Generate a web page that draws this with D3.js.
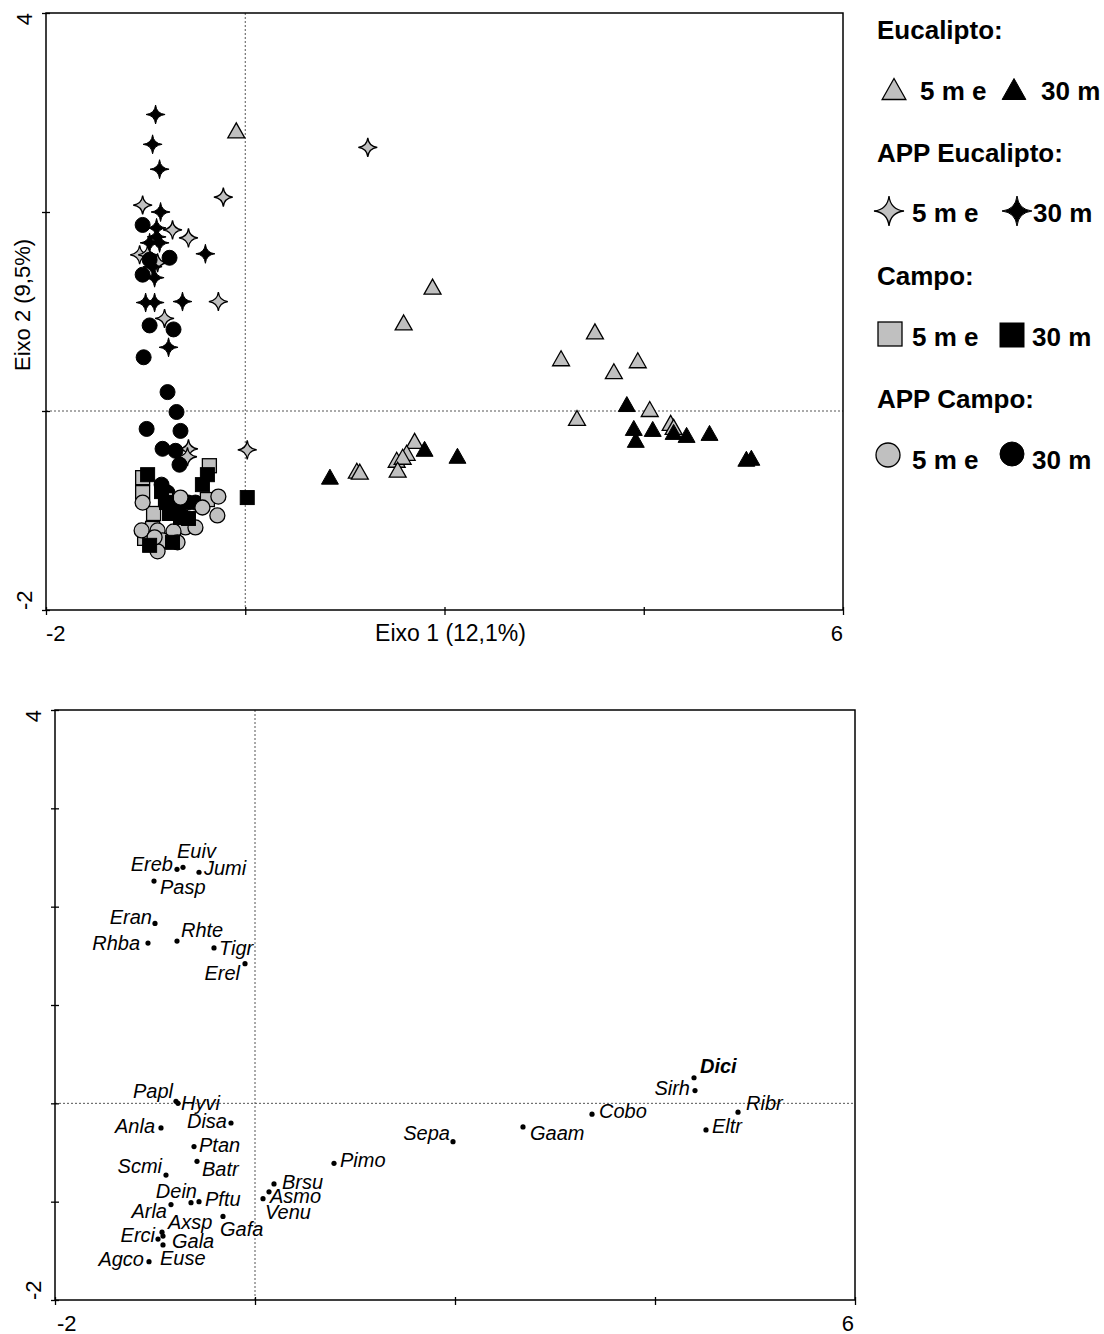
<!DOCTYPE html>
<html><head><meta charset="utf-8">
<script src="https://cdn.jsdelivr.net/npm/d3@7"></script>
<style>body{margin:0;background:#fff}svg{display:block}text{font-family:"Liberation Sans",Arial,sans-serif}</style>
</head><body><div id="chart"></div>
<script>
// ---------- DATA: top plot (sample scores, [x, y]) ----------
const eucalipto5 = [[-0.09,2.82],[1.88,1.25],[1.59,0.89],[3.51,0.80],[3.17,0.53],[3.94,0.51],[3.70,0.40],[4.06,0.02],[3.33,-0.07],[4.27,-0.12],[4.30,-0.16],[1.70,-0.30],[1.62,-0.42],[1.52,-0.49],[1.58,-0.46],[1.53,-0.59],[1.12,-0.60],[1.15,-0.61]];
const eucalipto30 = [[0.85,-0.66],[1.80,-0.38],[2.13,-0.45],[3.83,0.07],[3.90,-0.17],[4.09,-0.18],[4.30,-0.21],[4.43,-0.24],[4.66,-0.22],[3.92,-0.29],[5.03,-0.48],[5.08,-0.47]];
const appEuc5 = [[1.23,2.65],[-0.22,2.15],[-1.03,2.07],[-0.73,1.82],[-0.57,1.74],[-1.06,1.57],[-0.98,1.57],[-0.88,1.49],[-0.27,1.10],[-0.81,0.93],[-0.57,-0.38],[0.02,-0.39],[-0.58,-0.46]];
const appEuc30 = [[-0.90,2.98],[-0.93,2.68],[-0.86,2.43],[-0.85,2.00],[-0.89,1.84],[-0.89,1.75],[-0.86,1.69],[-0.96,1.69],[-0.40,1.58],[-0.93,1.45],[-0.91,1.34],[-1.00,1.09],[-0.91,1.09],[-0.63,1.10],[-0.77,0.64]];
const appCampo30 = [[-1.03,1.87],[-0.76,1.54],[-1.03,1.37],[-0.96,1.52],[-0.96,0.86],[-0.72,0.82],[-1.02,0.54],[-0.78,0.19],[-0.69,-0.01],[-0.99,-0.18],[-0.65,-0.20],[-0.83,-0.38],[-0.70,-0.40],[-0.66,-0.54],[-0.84,-0.74],[-0.78,-0.82],[-0.57,-0.92],[-0.50,-0.92],[-0.67,-0.97]];
const appCampo5 = [[-1.03,-0.92],[-0.27,-0.86],[-0.28,-1.05],[-0.43,-0.97],[-0.65,-0.87],[-0.60,-1.17],[-0.50,-1.17],[-0.72,-1.21],[-1.04,-1.20],[-0.88,-1.20],[-0.83,-1.30],[-0.68,-1.32],[-0.88,-1.41],[-0.91,-1.27]];
const campo5 = [[-0.36,-0.55],[-1.03,-0.67],[-1.03,-0.82],[-0.38,-0.89],[-0.92,-1.03],[-0.93,-1.18],[-1.01,-1.28],[-0.80,-0.89]];
const campo30 = [[-0.98,-0.64],[-0.38,-0.64],[-0.43,-0.74],[0.02,-0.87],[-0.79,-0.92],[-0.76,-1.03],[-0.65,-1.07],[-0.57,-1.08],[-0.96,-1.35],[-0.73,-1.32],[-0.84,-0.81]];

const topXTicks = [-2,0,2,4,6];
const topYTicks = [-2,0,2,4];
const topXLabels = ["-2","6"];
const topYLabels = ["-2","4"];
const axisTitleX = "Eixo 1 (12,1%)";
const axisTitleY = "Eixo 2 (9,5%)";

const legendGroups = ["Eucalipto:","APP Eucalipto:","Campo:","APP Campo:"];
const legendItems = ["5 m e","30 m"];

// ---------- DATA: bottom plot (species scores) ----------
const species = ["Ereb","Euiv","Jumi","Pasp","Eran","Rhba","Rhte","Tigr","Erel","Papl","Hyvi","Anla","Disa","Ptan","Batr","Scmi","Dein","Pftu","Arla","Axsp","Gafa","Erci","Gala","Euse","Agco","Brsu","Asmo","Venu","Pimo","Sepa","Gaam","Cobo","Dici","Sirh","Ribr","Eltr"];
const speciesX = [-0.78,-0.72,-0.56,-1.01,-1.00,-1.07,-0.78,-0.41,-0.10,-0.79,-0.77,-0.94,-0.24,-0.61,-0.58,-0.89,-0.64,-0.56,-0.84,-0.93,-0.32,-0.97,-0.92,-0.92,-1.06,0.19,0.14,0.08,0.79,1.98,2.68,3.37,4.39,4.40,4.83,4.51];
const speciesY = [2.38,2.40,2.35,2.26,1.83,1.63,1.65,1.58,1.42,0.02,0.00,-0.25,-0.20,-0.44,-0.59,-0.73,-1.01,-1.00,-1.03,-1.31,-1.15,-1.38,-1.35,-1.44,-1.61,-0.82,-0.90,-0.97,-0.61,-0.39,-0.24,-0.11,0.26,0.13,-0.09,-0.27];
const boldSpecies = ["Dici"];
const botXTicks = [-2,0,2,4,6];
const botYTicks = [-2,-1,0,1,2,3,4];

// ---------- LAYOUT (label placement relative to point: anchor, dx, dy) ----------
const labelPlace = {
 Ereb:["end",-4,2], Euiv:["start",-6,-9], Jumi:["start",5,3], Pasp:["start",6,13],
 Eran:["end",-3,1], Rhba:["end",-8,7], Rhte:["start",4,-4], Tigr:["start",5,7], Erel:["end",-5,16],
 Papl:["end",-3,-3], Hyvi:["start",3,7], Anla:["end",-6,5], Disa:["end",-4,5], Ptan:["start",5,5],
 Batr:["start",5,15], Scmi:["end",-4,-2], Dein:["end",6,-5], Pftu:["start",6,4], Arla:["end",-4,13],
 Axsp:["start",6,-3], Gafa:["start",-3,20], Erci:["end",-3,3], Gala:["start",9,12], Euse:["start",-3,20],
 Agco:["end",-5,4], Brsu:["start",8,5], Asmo:["start",1,11], Venu:["start",2,20], Pimo:["start",6,4],
 Sepa:["end",-3,-2], Gaam:["start",7,13], Cobo:["start",7,4], Dici:["start",6,-5], Sirh:["end",-5,4],
 Ribr:["start",8,-2], Eltr:["start",6,3]
};

const GRAY = "#c0c0c0";
const svg = d3.select("#chart").append("svg").attr("width",1104).attr("height",1334);

function starPath(r){
  const c = r*0.1;
  return `M0,${-r}Q${c},${-c} ${r},0Q${c},${c} 0,${r}Q${-c},${c} ${-r},0Q${-c},${-c} 0,${-r}Z`;
}
function triPath(w,h){ return `M0,${-h/2}L${w/2},${h/2}L${-w/2},${h/2}Z`; }
function drawShape(g, type, size, fill){
  let el;
  if(type==="tri") el = g.append("path").attr("d", triPath(size*1.13, size));
  else if(type==="star") el = g.append("path").attr("d", starPath(size/2));
  else if(type==="sq") el = g.append("rect").attr("x",-size/2).attr("y",-size/2).attr("width",size).attr("height",size);
  else el = g.append("circle").attr("r", size/2);
  el.attr("fill", fill).attr("stroke","#000").attr("stroke-width", fill===GRAY?1.3:1);
  return el;
}

// ================= TOP PLOT =================
const tx = d3.scaleLinear().domain([-2,6]).range([46,843]);
const ty = d3.scaleLinear().domain([-2,4]).range([610,13]);
const topG = svg.append("g");

topG.append("line").attr("x1",tx(0)).attr("x2",tx(0)).attr("y1",ty(4)).attr("y2",ty(-2))
  .attr("stroke","#555").attr("stroke-width",1).attr("stroke-dasharray","2,2");
topG.append("line").attr("x1",tx(-2)).attr("x2",tx(6)).attr("y1",ty(0)).attr("y2",ty(0))
  .attr("stroke","#555").attr("stroke-width",1).attr("stroke-dasharray","2,2");

const series = [
  [eucalipto5,"tri",15,GRAY],[eucalipto30,"tri",15,"#000"],
  [appEuc5,"star",19,GRAY],[appEuc30,"star",19,"#000"],
  [appCampo30,"circ",15,"#000"],[campo5,"sq",14,GRAY],[appCampo5,"circ",15,GRAY],[campo30,"sq",14,"#000"]
];
series.forEach(([data,type,size,fill])=>{
  data.forEach(d=>{
    const g = topG.append("g").attr("transform",`translate(${tx(d[0])},${ty(d[1])})`);
    drawShape(g,type,size,fill);
  });
});

topG.append("rect").attr("x",tx(-2)).attr("y",ty(4)).attr("width",tx(6)-tx(-2)).attr("height",ty(-2)-ty(4))
  .attr("fill","none").attr("stroke","#000").attr("stroke-width",1.5);
const tAxX = topG.append("g").attr("transform",`translate(0,${ty(-2)})`)
  .call(d3.axisBottom(tx).tickValues(topXTicks).tickSize(5).tickFormat(""));
const tAxY = topG.append("g").attr("transform",`translate(${tx(-2)},0)`)
  .call(d3.axisLeft(ty).tickValues(topYTicks).tickSize(4).tickFormat(""));
[tAxX,tAxY].forEach(a=>{a.select(".domain").remove(); a.selectAll(".tick line").attr("stroke","#000").attr("stroke-width",1.3);});
tAxX.selectAll(".tick line").attr("y1",-3);
tAxY.selectAll(".tick line").attr("x1",4);

topG.append("text").attr("x",tx(-2)).attr("y",641).attr("font-size",22).text(topXLabels[0]);
topG.append("text").attr("x",tx(6)).attr("y",641).attr("font-size",22).attr("text-anchor","end").text(topXLabels[1]);
topG.append("text").attr("x",(tx(-2)+tx(6))/2+6).attr("y",641).attr("font-size",23).attr("text-anchor","middle").text(axisTitleX);
topG.append("text").attr("transform",`translate(32,${ty(4)}) rotate(-90)`).attr("font-size",22).attr("text-anchor","end").text(topYLabels[1]);
topG.append("text").attr("transform",`translate(32,${ty(-2)}) rotate(-90)`).attr("font-size",22).attr("text-anchor","start").text(topYLabels[0]);
topG.append("text").attr("transform",`translate(30,305) rotate(-90)`).attr("font-size",22).attr("text-anchor","middle").text(axisTitleY);

// legend
const lg = svg.append("g").attr("font-weight","bold").attr("font-size",26);
const legendTypes = [["tri",[894,89],[1014,89]],["star",[889,211],[1017,211]],["sq",[890,334],[1012,335]],["circ",[888,455],[1012,454]]];
const legendText = [[920,1041,100],[912,1033,222],[912,1032,346],[912,1032,469]];
const headY = [39,162,285,408];
const legendSize = {tri:21,star:30,sq:24,circ:24};
legendGroups.forEach((name,i)=>{
  lg.append("text").attr("x",877).attr("y",headY[i]).text(name);
  const [type,p1,p2] = legendTypes[i];
  drawShape(lg.append("g").attr("transform",`translate(${p1})`),type,legendSize[type],GRAY);
  drawShape(lg.append("g").attr("transform",`translate(${p2})`),type,legendSize[type],"#000");
  lg.append("text").attr("x",legendText[i][0]).attr("y",legendText[i][2]).text(legendItems[0]);
  lg.append("text").attr("x",legendText[i][1]).attr("y",legendText[i][2]).text(legendItems[1]);
});

// ================= BOTTOM PLOT =================
const bx = d3.scaleLinear().domain([-2,6]).range([55,855]);
const by = d3.scaleLinear().domain([-2,4]).range([1300,710]);
const bot = svg.append("g");
bot.append("line").attr("x1",bx(0)).attr("x2",bx(0)).attr("y1",by(4)).attr("y2",by(-2))
  .attr("stroke","#555").attr("stroke-width",1).attr("stroke-dasharray","2,2");
bot.append("line").attr("x1",bx(-2)).attr("x2",bx(6)).attr("y1",by(0)).attr("y2",by(0))
  .attr("stroke","#555").attr("stroke-width",1).attr("stroke-dasharray","2,2");
bot.append("rect").attr("x",bx(-2)).attr("y",by(4)).attr("width",bx(6)-bx(-2)).attr("height",by(-2)-by(4))
  .attr("fill","none").attr("stroke","#000").attr("stroke-width",1.5);
const bAxX = bot.append("g").attr("transform",`translate(0,${by(-2)})`)
  .call(d3.axisBottom(bx).tickValues(botXTicks).tickSize(5).tickFormat(""));
const bAxY = bot.append("g").attr("transform",`translate(${bx(-2)},0)`)
  .call(d3.axisLeft(by).tickValues(botYTicks).tickSize(4).tickFormat(""));
[bAxX,bAxY].forEach(a=>{a.select(".domain").remove(); a.selectAll(".tick line").attr("stroke","#000").attr("stroke-width",1.3);});
bAxX.selectAll(".tick line").attr("y1",-3);
bAxY.selectAll(".tick line").attr("x1",4);
bot.append("text").attr("x",bx(-2)+2).attr("y",1331).attr("font-size",22).text(topXLabels[0]);
bot.append("text").attr("x",bx(6)-1).attr("y",1331).attr("font-size",22).attr("text-anchor","end").text(topXLabels[1]);
bot.append("text").attr("transform",`translate(41,${by(4)}) rotate(-90)`).attr("font-size",22).attr("text-anchor","end").text(topYLabels[1]);
bot.append("text").attr("transform",`translate(41,${by(-2)}) rotate(-90)`).attr("font-size",22).attr("text-anchor","start").text(topYLabels[0]);

species.forEach((s,i)=>{
  const x = bx(speciesX[i]), y = by(speciesY[i]);
  bot.append("circle").attr("cx",x).attr("cy",y).attr("r",2.6).attr("fill","#000");
  const [anc,dx,dy] = labelPlace[s];
  bot.append("text").attr("x",x+dx).attr("y",y+dy).attr("text-anchor",anc)
    .attr("font-size",20).attr("font-style","italic")
    .attr("font-weight", boldSpecies.includes(s)?"bold":"normal").text(s);
});
</script></body></html>
